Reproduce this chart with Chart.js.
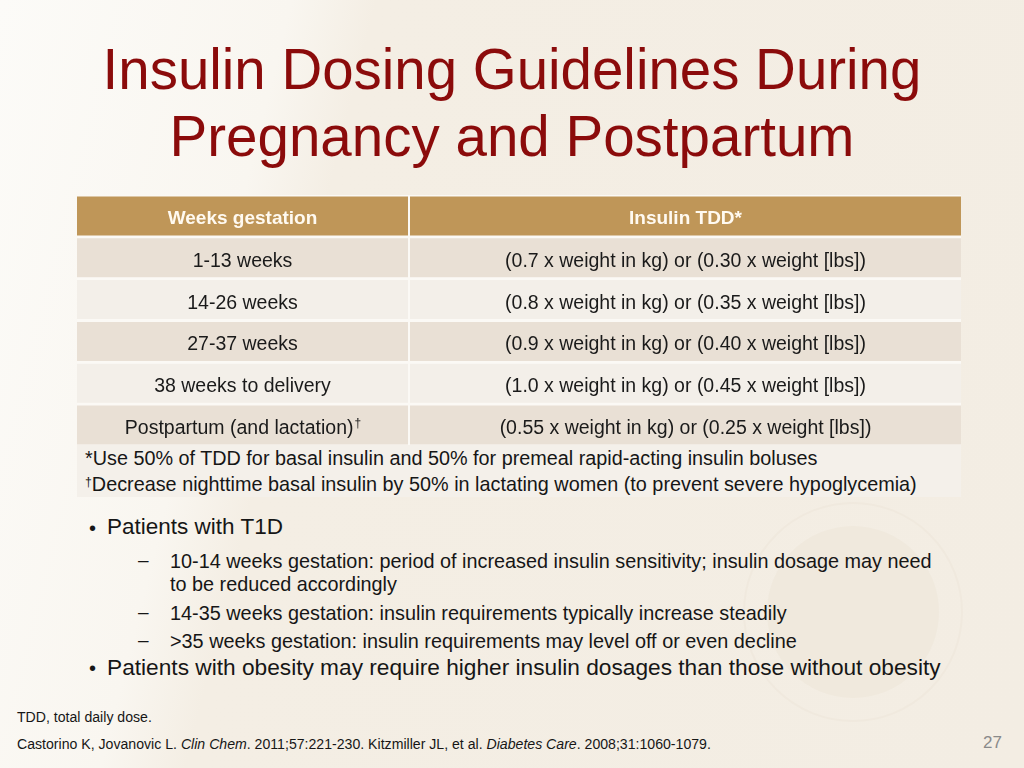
<!DOCTYPE html>
<html>
<head>
<meta charset="utf-8">
<script src="https://cdn.jsdelivr.net/npm/chart.js@4.4.3/dist/chart.umd.min.js"></script>
<style>
  html, body { margin: 0; padding: 0; }
  body {
    width: 1024px; height: 768px; overflow: hidden; position: relative;
    font-family: "Liberation Sans", Arial, sans-serif; color: #161616;
    background:
      linear-gradient(104deg, #fcfbf8 0%, #f9f6f0 24%, #f4eee4 31%, #f3ede3 100%);
  }
  .t { position: absolute; white-space: nowrap; line-height: 1; }
  .title { color: #8b0b0b; }
  .sup { position: relative; top: -0.45em; font-size: 0.62em; }
  #fnbox { position: absolute; left: 77px; top: 445px; width: 884px; height: 52px; background: #f4f0ea; }
  #tbl { position: absolute; left: 77px; top: 195px; width: 884px; height: 251px; background: #fbf9f5; }
  .seal { position: absolute; left: 743px; top: 502px; width: 220px; height: 220px; border-radius: 50%;
          border: 2px solid #f0e9de; box-sizing: border-box; }
  .seal-in { position: absolute; left: 767px; top: 526px; width: 172px; height: 172px; border-radius: 50%;
             background: #f0e9dd; }
  .page { color: #8a8a8a; }
</style>
</head>
<body>

<div class="seal"></div>
<div class="seal-in"></div>

<div class="t title" data-x="512" data-c="1" data-b="89.5" data-w="819" data-f="56">Insulin Dosing Guidelines During</div>
<div class="t title" data-x="512" data-c="1" data-b="157" data-w="685" data-f="56">Pregnancy and Postpartum</div>

<canvas id="tbl" width="884" height="251"></canvas>
<div id="fnbox"></div>

<div class="t" data-x="85" data-b="466" data-w="733" data-f="19.5">*Use 50% of TDD for basal insulin and 50% for premeal rapid-acting insulin boluses</div>
<div class="t" data-x="85" data-b="492" data-w="832" data-f="19.5"><span class="sup">†</span>Decrease nighttime basal insulin by 50% in lactating women (to prevent severe hypoglycemia)</div>

<div class="t" data-x="89" data-b="535" data-f="20">•</div>
<div class="t" data-x="107" data-b="535" data-w="176" data-f="22">Patients with T1D</div>
<div class="t" data-x="138" data-b="566" data-f="19">–</div>
<div class="t" data-x="170" data-b="569" data-w="762" data-f="19.5">10-14 weeks gestation: period of increased insulin sensitivity; insulin dosage may need</div>
<div class="t" data-x="170" data-b="592" data-w="227" data-f="19.5">to be reduced accordingly</div>
<div class="t" data-x="138" data-b="618" data-f="19">–</div>
<div class="t" data-x="170" data-b="621" data-w="617" data-f="19.5">14-35 weeks gestation: insulin requirements typically increase steadily</div>
<div class="t" data-x="138" data-b="646" data-f="19">–</div>
<div class="t" data-x="170" data-b="649" data-w="627" data-f="19.5">&gt;35 weeks gestation: insulin requirements may level off or even decline</div>
<div class="t" data-x="89" data-b="675" data-f="20">•</div>
<div class="t" data-x="107" data-b="675" data-w="834" data-f="22">Patients with obesity may require higher insulin dosages than those without obesity</div>

<div class="t" data-x="17" data-b="722" data-w="135" data-f="14">TDD, total daily dose.</div>
<div class="t" data-x="17" data-b="749" data-w="694" data-f="14">Castorino K, Jovanovic L. <i>Clin Chem</i>. 2011;57:221-230. Kitzmiller JL, et al. <i>Diabetes Care</i>. 2008;31:1060-1079.</div>
<div class="t page" data-x="983" data-b="748" data-f="17">27</div>

<script>
// ── table content ──────────────────────────────────────────────
const headers = ['Weeks gestation', 'Insulin TDD*'];
const weeks = [
  '1-13 weeks',
  '14-26 weeks',
  '27-37 weeks',
  '38 weeks to delivery',
  'Postpartum (and lactation)†',
];
const doses = [
  '(0.7 x weight in kg) or (0.30 x weight [lbs])',
  '(0.8 x weight in kg) or (0.35 x weight [lbs])',
  '(0.9 x weight in kg) or (0.40 x weight [lbs])',
  '(1.0 x weight in kg) or (0.45 x weight [lbs])',
  '(0.55 x weight in kg) or (0.25 x weight [lbs])',
];

// ── layout / colours ───────────────────────────────────────────
const TABLE_W = 884;
const COL1_END = 331;
const COL2_START = 333;
const HEAD_BG = '#bf9658';
const ROW_DARK = '#e9e0d5';
const ROW_LIGHT = '#f3efe9';
const FONT = '"Liberation Sans", Arial, sans-serif';

// place slide text lines by baseline, fitting to measured widths
document.querySelectorAll('.t').forEach(el => {
  let f = parseFloat(el.dataset.f || 20);
  el.style.fontSize = f + 'px';
  if (el.dataset.w) {
    f = f * parseFloat(el.dataset.w) / el.getBoundingClientRect().width;
    el.style.fontSize = f + 'px';
  }
  el.style.top = (parseFloat(el.dataset.b) - 0.8465 * f) + 'px';
  const x = parseFloat(el.dataset.x);
  el.style.left = (el.dataset.c ? x - el.getBoundingClientRect().width / 2 : x) + 'px';
});

const rowLabels = [headers[0], ...weeks];
const rowColors = rowLabels.map((_, i) => i === 0 ? HEAD_BG : (i % 2 ? ROW_DARK : ROW_LIGHT));

// draws the text of each cell at its bar centre
const cellText = {
  id: 'cellText',
  afterDatasetsDraw(chart) {
    const ctx = chart.ctx;
    chart.data.datasets.forEach((ds, di) => {
      const meta = chart.getDatasetMeta(di);
      meta.data.forEach((bar, i) => {
        const head = i === 0;
        const size = head ? 19 : 19.5;
        let txt = ds.texts[i];
        let sup = '';
        if (txt.endsWith('†')) { sup = '†'; txt = txt.slice(0, -1); }
        ctx.save();
        ctx.font = (head ? 'bold ' : '') + size + 'px ' + FONT;
        const w1 = ctx.measureText(txt).width;
        ctx.font = '12px ' + FONT;
        const w2 = sup ? ctx.measureText(sup).width : 0;
        const cx = (bar.x + bar.base) / 2;
        const y = bar.y + (head ? 8.5 : 9);
        const x0 = cx - (w1 + w2) / 2;
        ctx.fillStyle = head ? '#fffaf1' : '#1a1a1a';
        ctx.textBaseline = 'alphabetic';
        ctx.textAlign = 'left';
        ctx.font = (head ? 'bold ' : '') + size + 'px ' + FONT;
        ctx.fillText(txt, x0, y);
        if (sup) {
          ctx.font = '12px ' + FONT;
          ctx.fillText(sup, x0 + w1 + 1, y - 7);
        }
        ctx.restore();
      });
    });
  },
};

new Chart(document.getElementById('tbl'), {
  type: 'bar',
  data: {
    labels: rowLabels,
    datasets: [
      {
        label: headers[0],
        data: rowLabels.map(() => [0, COL1_END]),
        texts: rowLabels,
        backgroundColor: rowColors,
        borderWidth: 0,
        grouped: false,
        categoryPercentage: 1,
        barPercentage: 0.932,
      },
      {
        label: headers[1],
        data: rowLabels.map(() => [COL2_START, TABLE_W]),
        texts: [headers[1], ...doses],
        backgroundColor: rowColors,
        borderWidth: 0,
        grouped: false,
        categoryPercentage: 1,
        barPercentage: 0.932,
      },
    ],
  },
  options: {
    indexAxis: 'y',
    responsive: false,
    devicePixelRatio: 1,
    animation: false,
    layout: { padding: 0 },
    plugins: { legend: { display: false }, tooltip: { enabled: false } },
    scales: {
      x: { type: 'linear', min: 0, max: TABLE_W, display: false },
      y: { type: 'category', display: false, offset: true },
    },
  },
  plugins: [cellText],
});
</script>
</body>
</html>
